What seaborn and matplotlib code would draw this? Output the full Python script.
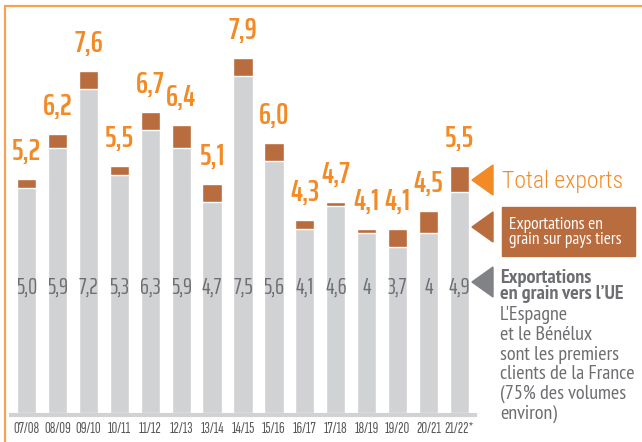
import matplotlib
matplotlib.use("Agg")
import matplotlib.pyplot as plt
import seaborn as sns
import pandas as pd
from matplotlib.patches import Polygon, Rectangle
from matplotlib.lines import Line2D

# Exports de blé tendre (Mt) par campagne
seasons = ["07/08", "08/09", "09/10", "10/11", "11/12", "12/13", "13/14", "14/15",
           "15/16", "16/17", "17/18", "18/19", "19/20", "20/21", "21/22*"]
total = [5.2, 6.2, 7.6, 5.5, 6.7, 6.4, 5.1, 7.9, 6.0, 4.3, 4.7, 4.1, 4.1, 4.5, 5.5]
eu = [5.0, 5.9, 7.2, 5.3, 6.3, 5.9, 4.7, 7.5, 5.6, 4.1, 4.6, 4.0, 3.7, 4.0, 4.9]
total_labels = ["5,2", "6,2", "7,6", "5,5", "6,7", "6,4", "5,1", "7,9", "6,0", "4,3",
                "4,7", "4,1", "4,1", "4,5", "5,5"]
eu_labels = ["5,0", "5,9", "7,2", "5,3", "6,3", "5,9", "4,7", "7,5", "5,6", "4,1",
             "4,6", "4", "3,7", "4", "4,9"]

df = pd.DataFrame({"season": seasons, "total": total, "eu": eu})

BROWN = "#b96c3e"
GRAY_BAR = "#d1d2d4"
ORANGE = "#f28a26"
TEXT_GRAY = "#6d6e71"
TRI_GRAY = "#808285"
FRAME = "#f6a250"

sns.set_style("white")

W, H = 642, 442
fig = plt.figure(figsize=(W / 100, H / 100), dpi=100)


def fx(x):
    return x / W


def fy(y):
    return 1 - y / H


ax = fig.add_axes([fx(11), 29 / H, 464 / W, 405 / H])
sns.barplot(data=df, x="season", y="total", color=BROWN, saturation=1, width=0.62, ax=ax)
sns.barplot(data=df, x="season", y="eu", color=GRAY_BAR, saturation=1, width=0.62, ax=ax)
ax.set_xlim(-0.5, len(seasons) - 0.5)
ax.set_ylim(0, 9)
ax.set_xlabel("")
ax.set_ylabel("")
ax.set_yticks([])
for side in ["top", "left", "right"]:
    ax.spines[side].set_visible(False)
ax.spines["bottom"].set_color(GRAY_BAR)
ax.spines["bottom"].set_linewidth(3)
ax.spines["bottom"].set_position(("outward", 1.5))
ax.tick_params(axis="x", length=0, pad=5)
for lab in ax.get_xticklabels():
    lab.set_fontfamily("Sofia Sans Extra Condensed")
    lab.set_fontsize(11.5)
    lab.set_color("#58595b")

# totals above the bars, EU volumes inside
for i, (t, lab) in enumerate(zip(total, total_labels)):
    ax.annotate(lab, (i, t), xytext=(0, 13.5), textcoords="offset points",
                ha="center", va="baseline", fontfamily="Saira ExtraCondensed",
                fontweight="semibold", fontsize=22, color=ORANGE)
for i, lab in enumerate(eu_labels):
    ax.text(i, 2.64, lab, ha="center", va="baseline", fontfamily="Saira ExtraCondensed",
            fontsize=16.5, color=TEXT_GRAY)

# orange frame (top and left)
fig.add_artist(Line2D([fx(5), fx(642)], [fy(6), fy(6)], color=FRAME, lw=1.6,
                      transform=fig.transFigure))
fig.add_artist(Line2D([fx(5), fx(5)], [fy(6), fy(442)], color=FRAME, lw=1.6,
                      transform=fig.transFigure))

# legend on the right
def triangle(yc, color):
    pts = [(fx(472), fy(yc)), (fx(493), fy(yc - 15)), (fx(493), fy(yc + 15))]
    fig.add_artist(Polygon(pts, closed=True, color=color, transform=fig.transFigure))


triangle(180, ORANGE)
triangle(227, BROWN)
triangle(282, TRI_GRAY)

fig.text(fx(502), fy(188), "Total exports", fontfamily="Roboto Condensed",
         fontweight="light", fontsize=17, color=ORANGE, va="baseline")

fig.add_artist(Rectangle((fx(502), fy(256)), fx(635) - fx(502), fy(207) - fy(256),
                         color=BROWN, transform=fig.transFigure))
# multi-line texts: baseline = last line
fig.text(fx(509), fy(244), "Exportations en\ngrain sur pays tiers", fontfamily="PT Sans Narrow",
         fontsize=12.5, linespacing=0.95, color="white", va="baseline")

fig.text(fx(500), fy(299), "Exportations\nen grain vers l\u2019UE", fontfamily="PT Sans Narrow",
         fontweight="bold", fontsize=14.5, linespacing=0.85, color=TEXT_GRAY, va="baseline")
note_lines = [("L'Espagne", 320), ("et le Bénélux", 340), ("sont les premiers", 360),
              ("clients de la France", 379), ("(75% des volumes", 399), ("environ)", 419)]
for txt, y in note_lines:
    fig.text(fx(500), fy(y), txt, fontfamily="PT Sans Narrow",
             fontsize=14.5, color=TEXT_GRAY, va="baseline")

fig.savefig("out.png", dpi=100)
